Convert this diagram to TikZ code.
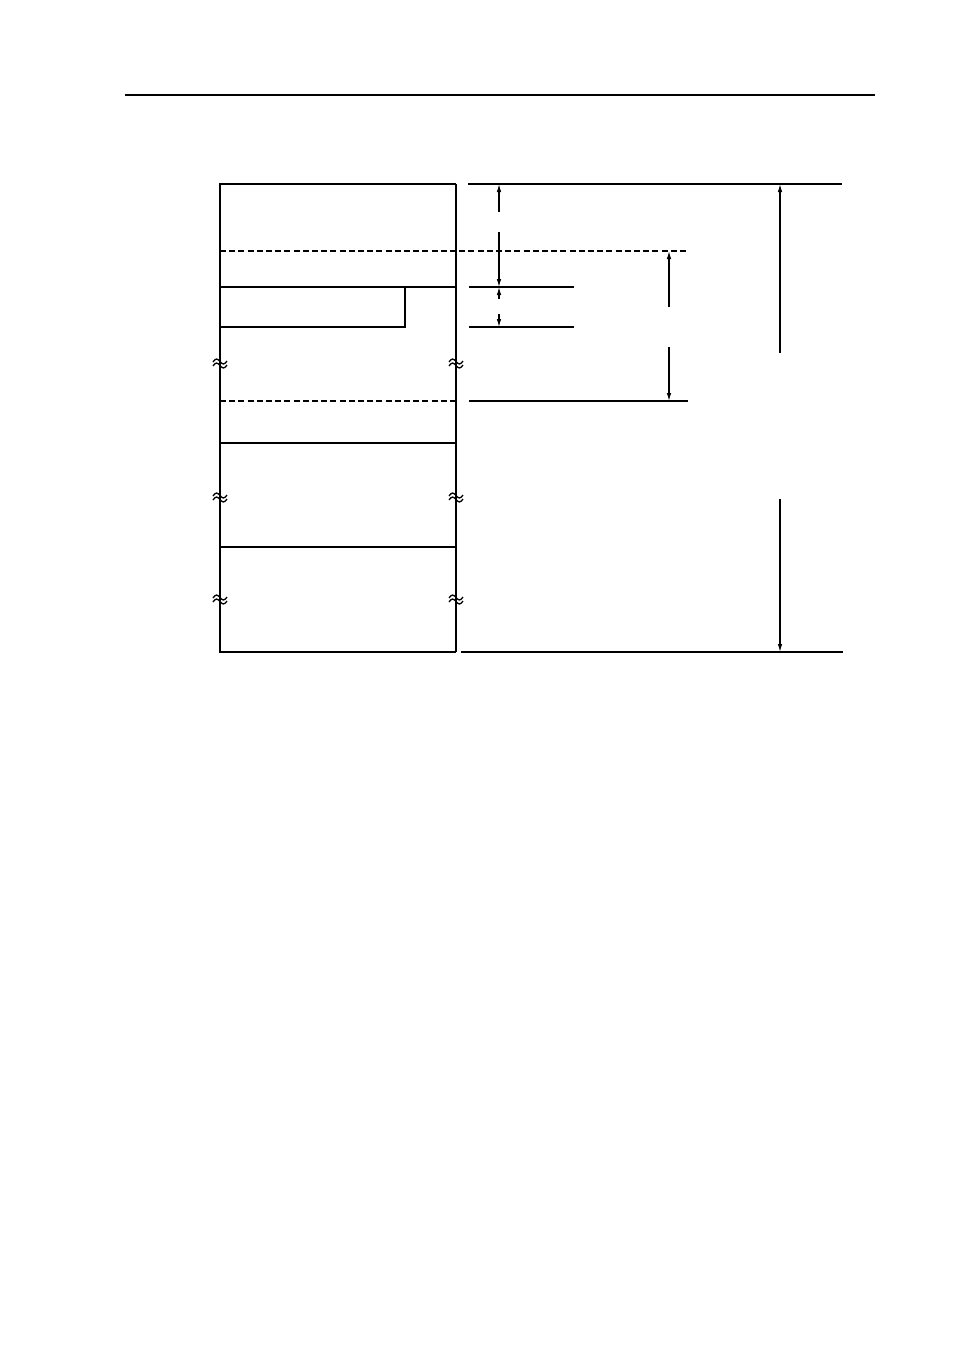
\documentclass[tikz,border=0pt]{standalone}
\usetikzlibrary{arrows.meta}
\begin{document}
\begin{tikzpicture}[x=0.5pt,y=-0.5pt,
  thin line/.style={line width=0.6pt},
  frame line/.style={line width=0.9pt},
  dash line/.style={line width=0.6pt, dash pattern=on 3pt off 1.6pt},
  dim/.style={line width=0.6pt, -{Latex[length=4pt,width=2.3pt]}},
  wavy/.style={line width=0.65pt}]
\useasboundingbox (0,0) rectangle (954,1351);
% header rule
\coordinate (hl) at (125,95); \coordinate (hr) at (875,95);
\draw[thin line] (hl) -- (hr);
% main box corners
\coordinate (tl) at (220,184); \coordinate (tr) at (456,184);
\coordinate (bl) at (220,652); \coordinate (br) at (456,652);
\draw[frame line] (tr) -- (tl) -- (bl) -- (br);
\draw[line width=0.7pt] (tr) -- (br);
% internal lines
\draw[dash line] (220,251) -- (688,251);
\draw[thin line] (220,287) -- (456,287);
\draw[thin line] (220,327) -- (405,327) -- (405,287);
\draw[dash line] (220,401) -- (456,401);
\draw[thin line] (220,443) -- (456,443);
\draw[thin line] (220,547) -- (456,547);
% extension lines
\draw[thin line] (468,184) -- (842,184);
\draw[thin line] (469,287) -- (574,287);
\draw[thin line] (469,327) -- (574,327);
\draw[thin line] (469,401) -- (688,401);
\draw[thin line] (461,652) -- (843,652);
% dimension arrows
\coordinate (a1) at (499,212); \coordinate (a1h) at (499,184);
\coordinate (a2) at (499,232); \coordinate (a2h) at (499,287);
\coordinate (a3) at (499,299); \coordinate (a3h) at (499,287);
\coordinate (a4) at (499,314); \coordinate (a4h) at (499,327);
\draw[dim] (a1) -- (a1h);
\draw[dim] (a2) -- (a2h);
\draw[dim] (a3) -- (a3h);
\draw[dim] (a4) -- (a4h);
\coordinate (b1) at (669,307); \coordinate (b1h) at (669,251);
\coordinate (b2) at (669,347); \coordinate (b2h) at (669,401);
\draw[dim] (b1) -- (b1h);
\draw[dim] (b2) -- (b2h);
\coordinate (c1) at (780,353); \coordinate (c1h) at (780,184);
\coordinate (c2) at (780,499); \coordinate (c2h) at (780,652);
\draw[dim] (c1) -- (c1h);
\draw[dim] (c2) -- (c2h);
% break marks
\foreach \cx in {220,456}{
  \foreach \cy in {363,497,599}{
    \draw[wavy] (\cx-7,\cy-1) sin (\cx-3.5,\cy-4) cos (\cx,\cy-1.5) sin (\cx+3.5,\cy+1) cos (\cx+7,\cy-2);
    \draw[wavy] (\cx-7,\cy+3) sin (\cx-3.5,\cy) cos (\cx,\cy+2.5) sin (\cx+3.5,\cy+5) cos (\cx+7,\cy+2);
  }
}
\end{tikzpicture}
\end{document}
